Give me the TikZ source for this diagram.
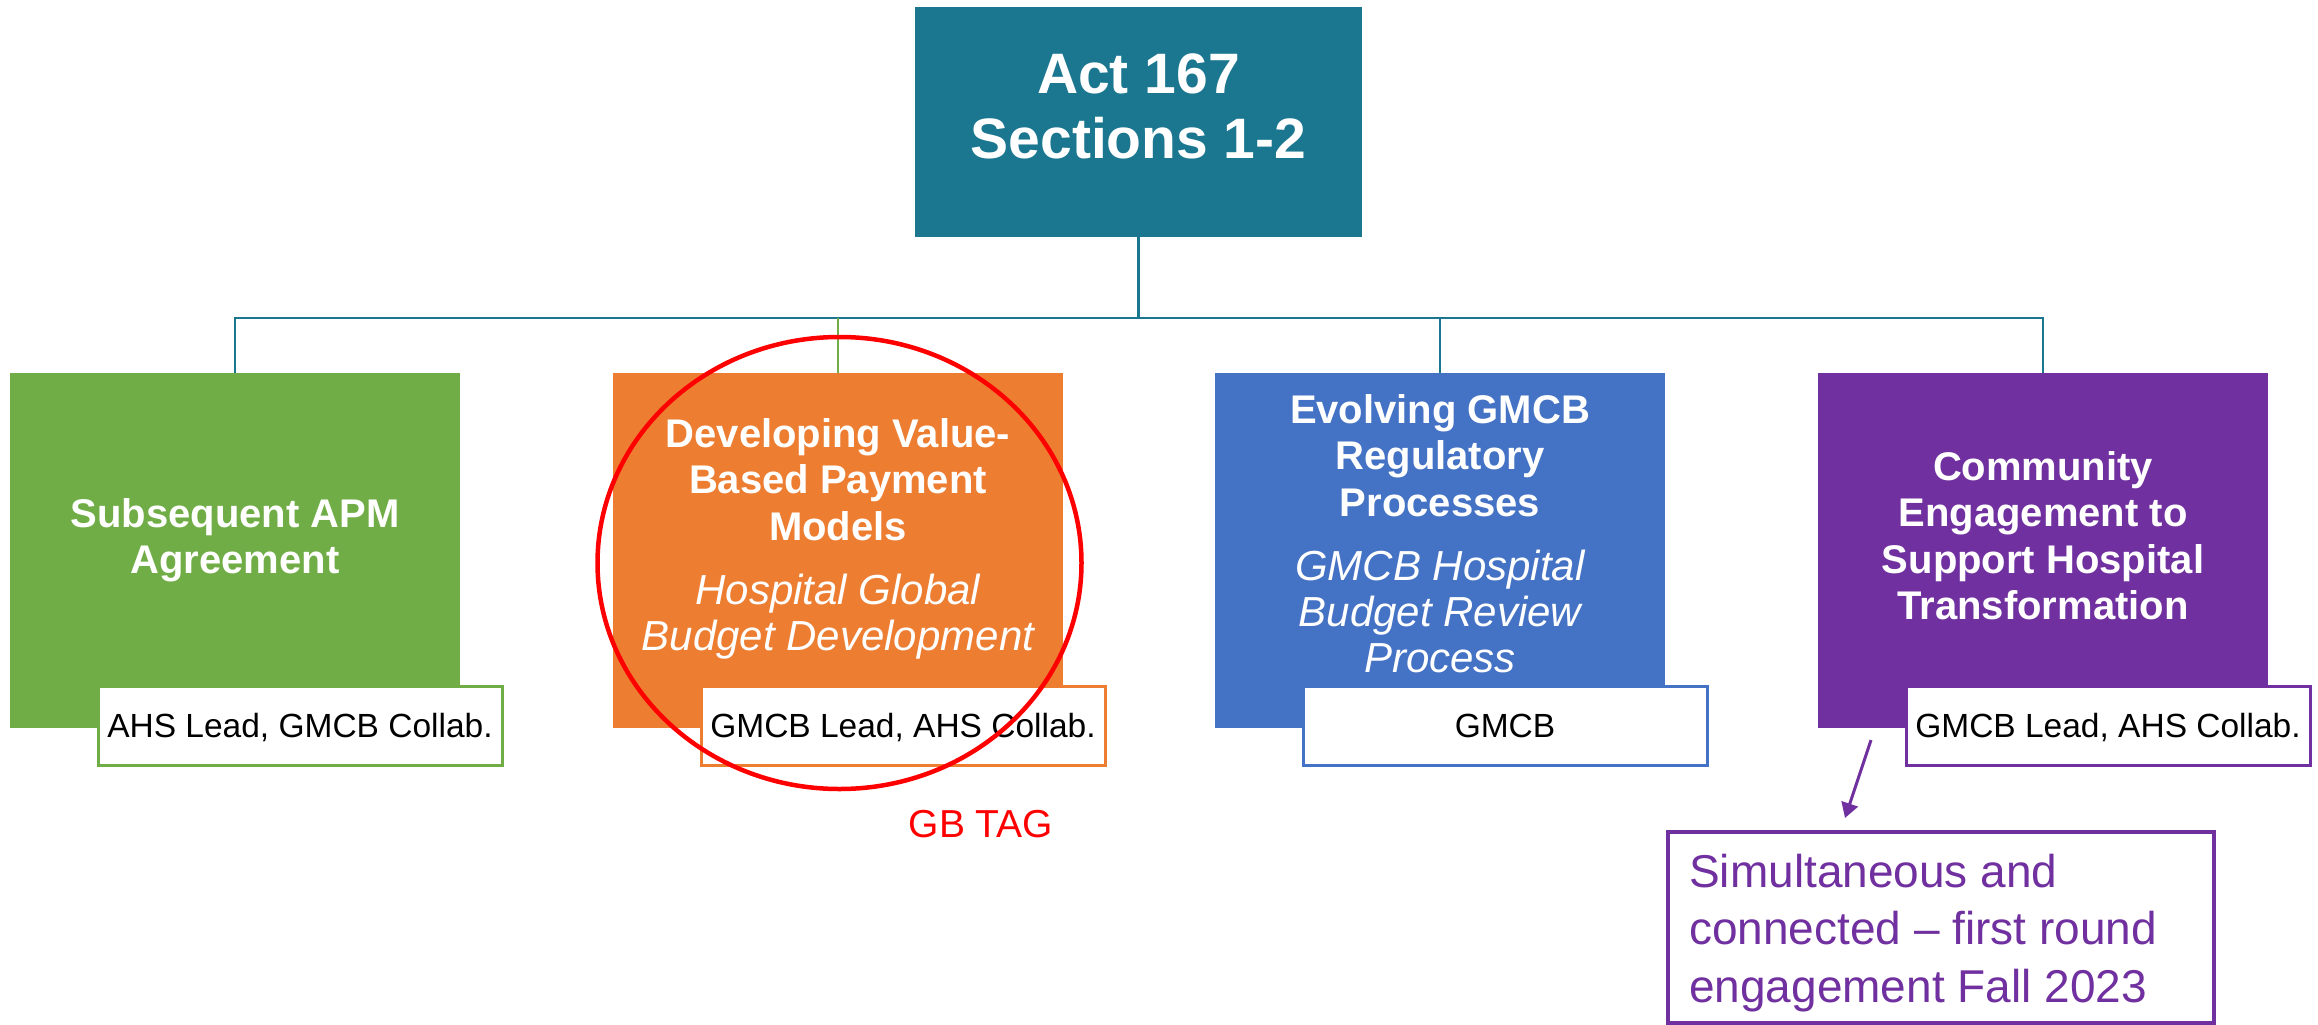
\documentclass[tikz,border=0pt]{standalone}
\usepackage{fontspec}
\setmainfont{Liberation Sans}
\usetikzlibrary{arrows.meta,shapes.geometric}
\definecolor{cteal}{HTML}{1B7690}
\definecolor{cgreen}{HTML}{70AD47}
\definecolor{corange}{HTML}{ED7D31}
\definecolor{cblue}{HTML}{4472C4}
\definecolor{cpurple}{HTML}{7030A0}
\definecolor{cred}{HTML}{FF0000}
\newcommand{\mlc}[1]{\begin{tabular}[t]{@{}c@{}}#1\end{tabular}}
\newcommand{\mll}[1]{\begin{tabular}[t]{@{}l@{}}#1\end{tabular}}
\begin{document}
\begin{tikzpicture}[x=1pt,y=-1pt,
  bigbox/.style={rectangle,inner sep=0pt,minimum width=450pt,minimum height=355pt},
  lblbox/.style={rectangle,fill=white,draw=#1,line width=3pt,inner sep=0pt,minimum width=404pt,minimum height=79pt,text height=24pt,text depth=0pt,font=\fontsize{33.5}{38}\selectfont},
  ttl/.style={text=white,anchor=base,inner sep=0pt,font=\fontsize{40}{46.5}\selectfont\bfseries},
  sub/.style={text=white,anchor=base,inner sep=0pt,font=\fontsize{42}{46}\selectfont\itshape},
  conn/.style={draw=cteal,line width=2.5pt},
]
\useasboundingbox (0,0) rectangle (2318,1025);

% top box
\node[rectangle,fill=cteal,inner sep=0pt,minimum width=447pt,minimum height=230pt] (top) at (1138.5,122) {};
\node[text=white,anchor=base,inner sep=0pt,font=\fontsize{57}{65}\selectfont\bfseries] (toptxt) at (1138.5,93) {\mlc{Act 167\\Sections 1-2}};

% main boxes
\node[bigbox,fill=cgreen] (g) at (235,550.5) {};
\node[bigbox,fill=corange] (o) at (838,550.5) {};
\node[bigbox,fill=cblue] (b) at (1440,550.5) {};
\node[bigbox,fill=cpurple] (p) at (2043,550.5) {};

% connectors
\coordinate (bus) at (1138.5,318);
\draw[conn] (top.south) -- (bus);
\draw[conn] (g.north) -- (g.north |- bus) -- (p.north |- bus) -- (p.north);
\draw[conn] (b.north) -- (b.north |- bus);
\draw[draw=cgreen,line width=2.5pt] (o.north) -- (o.north |- bus);

% box texts
\node[ttl] (gtxt) at (235,527) {\mlc{Subsequent APM\\Agreement}};
\node[ttl] (otxt) at (838,447) {\mlc{Developing Value-\\Based Payment\\Models}};
\node[sub] (osub) at (838,604) {\mlc{Hospital Global\\Budget Development}};
\node[ttl] (btxt) at (1440,423) {\mlc{Evolving GMCB\\Regulatory\\Processes}};
\node[sub] (bsub) at (1440,580) {\mlc{GMCB Hospital\\Budget Review\\Process}};
\node[ttl] (ptxt) at (2043,480) {\mlc{Community\\Engagement to\\Support Hospital\\Transformation}};

% labels
\node[lblbox=cgreen] (gl) at (300,725.5) {AHS Lead, GMCB Collab.};
\node[lblbox=corange] (ol) at (903,725.5) {GMCB Lead, AHS Collab.};
\node[lblbox=cblue] (bl) at (1505,725.5) {GMCB};
\node[lblbox=cpurple] (pl) at (2108,725.5) {GMCB Lead, AHS Collab.};

% red circle and tag
\node[ellipse,draw=cred,line width=4.5pt,inner sep=0pt,minimum width=484pt,minimum height=452pt] (circ) at (839.5,563) {};
\node[text=cred,anchor=base,inner sep=0pt,font=\fontsize{39}{44}\selectfont] (tag) at (981,837) {GB TAG};

% note box and arrow
\node[rectangle,draw=cpurple,line width=3.5pt,fill=white,inner sep=0pt,minimum width=546pt,minimum height=191pt] (note) at (1941,927.5) {};
\node[text=cpurple,anchor=base west,inner sep=0pt,font=\fontsize{46}{57.5}\selectfont] (notetxt) at (1689,887) {\mll{Simultaneous and\\connected -- first round\\engagement Fall 2023}};
\coordinate (arrs) at (1871,740);
\coordinate (arre) at (1845,818);
\draw[draw=cpurple,line width=3pt,-{Triangle[length=15pt,width=17pt]}] (arrs) -- (arre);
\end{tikzpicture}
\end{document}
